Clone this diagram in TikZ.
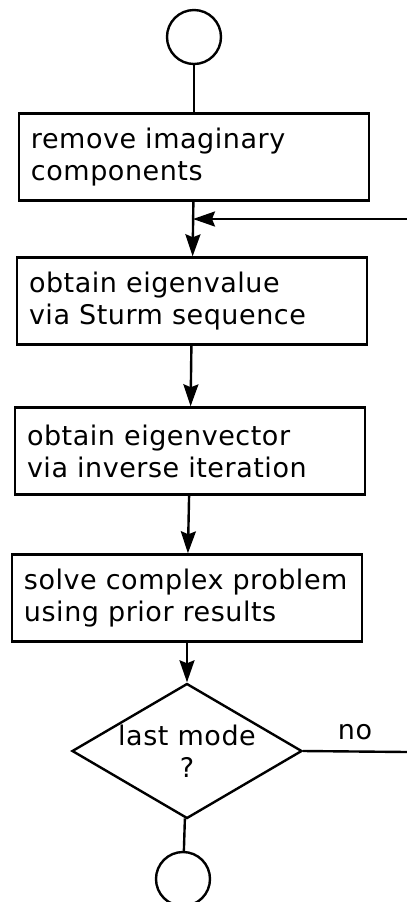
\documentclass[tikz,border=0pt]{standalone}
\usepackage{fontspec}
\setmainfont[LetterSpace=2]{DejaVu Sans}
\usetikzlibrary{shapes.geometric,arrows.meta}

\begin{document}
\begin{tikzpicture}[x=0.5pt,y=-0.5pt,line width=1.2pt,
    font=\fontsize{13.5}{16}\selectfont,
    >={Stealth[length=11pt,width=7.5pt,inset=1.5pt]},
    term/.style={draw,circle,minimum size=27pt,inner sep=0pt},
    stepbox/.style={draw,rectangle,minimum width=175pt,minimum height=43.5pt,
      inner xsep=6pt,text width=163pt,align=left},
    decision/.style={draw,diamond,aspect=1.7,minimum width=115pt,
      minimum height=67.5pt,inner sep=0pt,align=center}]

  \useasboundingbox (0,0) rectangle (407,902);

  % start and end
  \node[term] (start) at (194,37) {};
  \node[term] (stop) at (183,879) {};

  % steps
  \foreach \n/\x/\y/\t in {b1/194/157/{remove imaginary\\components},
                           b2/192/301/{obtain eigenvalue\\via Sturm sequence},
                           b3/190/451/{obtain eigenvector\\via inverse iteration},
                           b4/187/598/{solve complex problem\\using prior results}}
  { \node[stepbox] (\n) at (\x,\y) {\t}; }

  % test
  \node[decision] (last) at (187,751) {last mode\\?};
  \node (no) at (355,732) {no};

  % flow
  \draw (start) -- (b1);
  \foreach \a/\b in {b1/b2,b2/b3,b3/b4,b4/last}
  { \draw[->] (\a) -- (\b); }
  \draw (last) -- (stop);

  % loop back, cut at the right edge
  \path (407,752) coordinate (noout);
  \path (407,219) coordinate (backin);
  \path (193,219) coordinate (join);
  \draw (last.east) -- (noout);
  \draw[->] (backin) -- (join);
\end{tikzpicture}
\end{document}
